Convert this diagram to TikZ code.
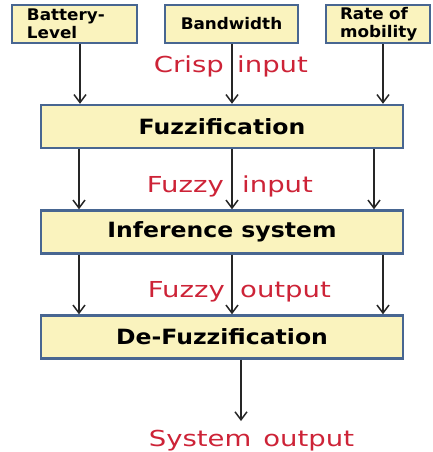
\documentclass[tikz,border=0pt]{standalone}
\usepackage{fontspec}
\setmainfont{DejaVu Sans}
\newfontfamily\srcfont[FakeStretch=1.05]{DejaVu Sans}
\newfontfamily\stagefont[FakeStretch=1.12]{DejaVu Sans}
\newfontfamily\lblfont[FakeStretch=1.25]{DejaVu Sans}
\usetikzlibrary{arrows.meta,positioning,calc}

\definecolor{boxfill}{RGB}{250,243,190}
\definecolor{boxline}{RGB}{72,102,145}
\definecolor{lblred}{RGB}{205,35,55}

\begin{document}
\begin{tikzpicture}[x=1pt, y=-1pt,
    every node/.style={inner sep=0pt, align=center},
    src/.style={draw=boxline, line width=2.4pt, fill=boxfill, minimum height=38pt, font=\srcfont\bfseries\fontsize{16}{18}\selectfont},
    stage/.style={draw=boxline, line width=2.4pt, fill=boxfill, minimum width=362pt, minimum height=43pt, font=\stagefont\bfseries\fontsize{21}{23}\selectfont},
    lbl/.style={text=lblred, font=\lblfont\fontsize{22}{24}\selectfont},
    arr/.style={-{Straight Barb[length=8pt, width=12pt]}, line width=1.5pt, black!85}
]
\useasboundingbox (0,0) rectangle (432,452);

% Row 0 — crisp inputs
\node[src, minimum width=125pt, align=left, text width=95pt] (bat)  at (74.5, 24) {Battery-\\Level};
\node[src, minimum width=133pt] (bw)   at (231.5, 24) {Bandwidth};
\node[src, minimum width=104pt, align=left, text width=76pt] (mob)  at (378, 24) {Rate of\\mobility};

% Rows 1-3 — fuzzy stages
\node[stage] (fuz) at (222, 126.5) {Fuzzification};
\node[stage] (inf) at (222, 232) {Inference system};
\node[stage] (def) at (222, 337) {De-Fuzzification};

% Labels between rows (the arrow runs between the two words)
\node[lbl, anchor=base east] (crispa) at (224, 73)  {Crisp};
\node[lbl, anchor=base west] (crispb) at (237, 73)  {input};
\node[lbl, anchor=base east] (fzina)  at (224, 192) {Fuzzy};
\node[lbl, anchor=base west] (fzinb)  at (242, 192) {input};
\node[lbl, anchor=base east] (fzouta) at (225, 297) {Fuzzy};
\node[lbl, anchor=base west] (fzoutb) at (240, 297) {output};
\node[lbl, anchor=base] (sysout) at (251.5, 446) {System\hspace{12pt}output};
\coordinate (out) at (241, 421);

% Arrows
\draw[arr] (bat.south -| 80,0)  -- (fuz.north -| 80,0);
\draw[arr] (bw.south -| 232,0)  -- (fuz.north -| 232,0);
\draw[arr] (mob.south -| 383,0) -- (fuz.north -| 383,0);
\draw[arr] (fuz.south -| 79,0)  -- (inf.north -| 79,0);
\draw[arr] (fuz.south -| 232,0) -- (inf.north -| 232,0);
\draw[arr] (fuz.south -| 374,0) -- (inf.north -| 374,0);
\draw[arr] (inf.south -| 79,0)  -- (def.north -| 79,0);
\draw[arr] (inf.south -| 232,0) -- (def.north -| 232,0);
\draw[arr] (inf.south -| 383,0) -- (def.north -| 383,0);
\draw[arr] (def.south -| out)   -- (out);
\end{tikzpicture}
\end{document}
